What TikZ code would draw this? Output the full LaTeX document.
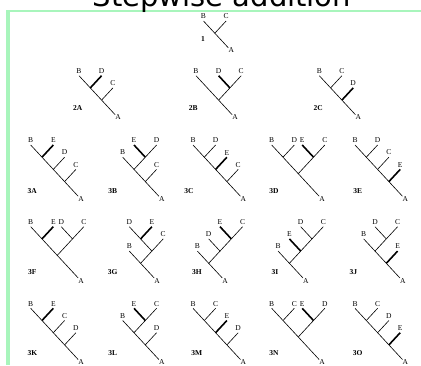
\documentclass[tikz,border=0pt]{standalone}
\usepackage{fontspec}
\setmainfont{Liberation Serif}
\newfontfamily\titlefont{DejaVu Sans}
\definecolor{framegreen}{RGB}{168,245,188}

\begin{document}
\begin{tikzpicture}[x=1pt,y=-1pt,
  br/.style={line width=0.6pt},
  newbr/.style={line width=1.6pt},
  leaf/.style={above,inner sep=2pt,font=\fontsize{7.5}{8}\selectfont},
  rootlbl/.style={below right,inner sep=0pt,font=\fontsize{7.5}{8}\selectfont},
  tname/.style={font=\fontsize{7.5}{8}\selectfont\bfseries}]

\useasboundingbox (0,0) rectangle (421,365);

% frame and title
\fill[framegreen] (6,9.5) rectangle (421,11.5);
\fill[framegreen] (6,9.5) rectangle (10,365);
\node[font=\titlefont\fontsize{29}{30}\selectfont,anchor=base] (title) at (222,6.5) {Stepwise addition};

% step 1
\begin{scope}[shift={(203.5,21)},xscale=11.3,yscale=12.2]
\draw[br] (0,0) -- (2.2,2.2);
\draw[br] (2,0) -- (1,1);
\node[leaf] (B1) at (0,0) {B};
\node[leaf] (C1) at (2,0) {C};
\node[rootlbl] (A1) at (2.2,2.2) {A};
\end{scope}
\node[tname] (t1) at (203,39) {1};

% step 2: adding D
\begin{scope}[shift={(79,75.7)},xscale=11.3,yscale=12.2]
\draw[br] (0,0) -- (3.2,3.2);
\draw[newbr] (2,0) -- (1,1);
\draw[br] (3,1) -- (2,2);
\node[leaf] (B2a) at (0,0) {B};
\node[leaf] (D2a) at (2,0) {D};
\node[leaf] (C2a) at (3,1) {C};
\node[rootlbl] (A2a) at (3.2,3.2) {A};
\end{scope}
\node[tname] (t2a) at (77.7,107.7) {2A};

\begin{scope}[shift={(196,75.7)},xscale=11.3,yscale=12.2]
\draw[br] (0,0) -- (3.2,3.2);
\draw[newbr] (2,0) -- (3,1);
\draw[br] (4,0) -- (3,1) -- (2,2);
\node[leaf] (B2b) at (0,0) {B};
\node[leaf] (D2b) at (2,0) {D};
\node[leaf] (C2b) at (4,0) {C};
\node[rootlbl] (A2b) at (3.2,3.2) {A};
\end{scope}
\node[tname] (t2b) at (193.3,107.7) {2B};

\begin{scope}[shift={(319.3,75.7)},xscale=11.3,yscale=12.2]
\draw[br] (0,0) -- (3.2,3.2);
\draw[br] (2,0) -- (1,1);
\draw[newbr] (3,1) -- (2,2);
\node[leaf] (B2c) at (0,0) {B};
\node[leaf] (C2c) at (2,0) {C};
\node[leaf] (D2c) at (3,1) {D};
\node[rootlbl] (A2c) at (3.2,3.2) {A};
\end{scope}
\node[tname] (t2c) at (318.3,107.7) {2C};

% step 3: adding E
\begin{scope}[shift={(30.7,145)},xscale=11.3,yscale=12.2]
\draw[br] (0,0) -- (4.2,4.2);
\draw[newbr] (2,0) -- (1,1);
\draw[br] (3,1) -- (2,2);
\draw[br] (4,2) -- (3,3);
\node[leaf] (B3a) at (0,0) {B};
\node[leaf] (E3a) at (2,0) {E};
\node[leaf] (D3a) at (3,1) {D};
\node[leaf] (C3a) at (4,2) {C};
\node[rootlbl] (A3a) at (4.2,4.2) {A};
\end{scope}
\node[tname] (t3a) at (32.3,190.7) {3A};

\begin{scope}[shift={(122.7,145)},xscale=11.3,yscale=12.2]
\draw[br] (0,1) -- (3.2,4.2);
\draw[newbr] (1,0) -- (2,1);
\draw[br] (3,0) -- (2,1) -- (1,2);
\draw[br] (3,2) -- (2,3);
\node[leaf] (E3b) at (1,0) {E};
\node[leaf] (D3b) at (3,0) {D};
\node[leaf] (B3b) at (0,1) {B};
\node[leaf] (C3b) at (3,2) {C};
\node[rootlbl] (A3b) at (3.2,4.2) {A};
\end{scope}
\node[tname] (t3b) at (112.7,190.7) {3B};

\begin{scope}[shift={(193,145)},xscale=11.3,yscale=12.2]
\draw[br] (0,0) -- (4.2,4.2);
\draw[br] (2,0) -- (1,1);
\draw[newbr] (3,1) -- (2,2);
\draw[br] (4,2) -- (3,3);
\node[leaf] (B3c) at (0,0) {B};
\node[leaf] (D3c) at (2,0) {D};
\node[leaf] (E3c) at (3,1) {E};
\node[leaf] (C3c) at (4,2) {C};
\node[rootlbl] (A3c) at (4.2,4.2) {A};
\end{scope}
\node[tname] (t3c) at (189,190.7) {3C};

\begin{scope}[shift={(271.7,145)},xscale=11.3,yscale=12.2]
\draw[br] (0,0) -- (4.2,4.2);
\draw[br] (2,0) -- (1,1);
\draw[newbr] (2.7,0) -- (3.7,1);
\draw[br] (4.7,0) -- (3.7,1) -- (2.35,2.35);
\node[leaf] (B3d) at (0,0) {B};
\node[leaf] (D3d) at (2,0) {D};
\node[leaf] (E3d) at (2.7,0) {E};
\node[leaf] (C3d) at (4.7,0) {C};
\node[rootlbl] (A3d) at (4.2,4.2) {A};
\end{scope}
\node[tname] (t3d) at (274,190.7) {3D};

\begin{scope}[shift={(355,145)},xscale=11.3,yscale=12.2]
\draw[br] (0,0) -- (4.2,4.2);
\draw[br] (2,0) -- (1,1);
\draw[br] (3,1) -- (2,2);
\draw[newbr] (4,2) -- (3,3);
\node[leaf] (B3e) at (0,0) {B};
\node[leaf] (D3e) at (2,0) {D};
\node[leaf] (C3e) at (3,1) {C};
\node[leaf] (E3e) at (4,2) {E};
\node[rootlbl] (A3e) at (4.2,4.2) {A};
\end{scope}
\node[tname] (t3e) at (357.7,190.7) {3E};

\begin{scope}[shift={(30.7,226.7)},xscale=11.3,yscale=12.2]
\draw[br] (0,0) -- (4.2,4.2);
\draw[newbr] (2,0) -- (1,1);
\draw[br] (2.7,0) -- (3.7,1);
\draw[br] (4.7,0) -- (3.7,1) -- (2.35,2.35);
\node[leaf] (B3f) at (0,0) {B};
\node[leaf] (E3f) at (2,0) {E};
\node[leaf] (D3f) at (2.7,0) {D};
\node[leaf] (C3f) at (4.7,0) {C};
\node[rootlbl] (A3f) at (4.2,4.2) {A};
\end{scope}
\node[tname] (t3f) at (32.3,271.7) {3F};

\begin{scope}[shift={(129.3,226.7)},xscale=11.3,yscale=12.2]
\draw[br] (0,0) -- (2,2) -- (1,3);
\draw[newbr] (2,0) -- (1,1);
\draw[br] (3,1) -- (2,2);
\draw[br] (0,2) -- (2.2,4.2);
\node[leaf] (D3g) at (0,0) {D};
\node[leaf] (E3g) at (2,0) {E};
\node[leaf] (C3g) at (3,1) {C};
\node[leaf] (B3g) at (0,2) {B};
\node[rootlbl] (A3g) at (2.2,4.2) {A};
\end{scope}
\node[tname] (t3g) at (112.7,271.7) {3G};

\begin{scope}[shift={(197.4,226.7)},xscale=11.3,yscale=12.2]
\draw[newbr] (2,0) -- (3,1);
\draw[br] (4,0) -- (3,1) -- (2,2);
\draw[br] (1,1) -- (2,2) -- (1,3);
\draw[br] (0,2) -- (2.2,4.2);
\node[leaf] (E3h) at (2,0) {E};
\node[leaf] (C3h) at (4,0) {C};
\node[leaf] (D3h) at (1,1) {D};
\node[leaf] (B3h) at (0,2) {B};
\node[rootlbl] (A3h) at (2.2,4.2) {A};
\end{scope}
\node[tname] (t3h) at (197,271.7) {3H};

\begin{scope}[shift={(278.1,226.7)},xscale=11.3,yscale=12.2]
\draw[br] (2,0) -- (3,1);
\draw[br] (4,0) -- (3,1) -- (2,2) -- (1,3);
\draw[newbr] (1,1) -- (2,2);
\draw[br] (0,2) -- (2.2,4.2);
\node[leaf] (D3i) at (2,0) {D};
\node[leaf] (C3i) at (4,0) {C};
\node[leaf] (E3i) at (1,1) {E};
\node[leaf] (B3i) at (0,2) {B};
\node[rootlbl] (A3i) at (2.2,4.2) {A};
\end{scope}
\node[tname] (t3i) at (275,271.7) {3I};

\begin{scope}[shift={(352.4,226.7)},xscale=11.3,yscale=12.2]
\draw[br] (2,0) -- (3,1);
\draw[br] (4,0) -- (3,1) -- (2,2);
\draw[br] (1,1) -- (4.2,4.2);
\draw[newbr] (4,2) -- (3,3);
\node[leaf] (D3j) at (2,0) {D};
\node[leaf] (C3j) at (4,0) {C};
\node[leaf] (B3j) at (1,1) {B};
\node[leaf] (E3j) at (4,2) {E};
\node[rootlbl] (A3j) at (4.2,4.2) {A};
\end{scope}
\node[tname] (t3j) at (353.3,271.7) {3J};

\begin{scope}[shift={(30.7,308.3)},xscale=11.3,yscale=12.2]
\draw[br] (0,0) -- (4.2,4.2);
\draw[newbr] (2,0) -- (1,1);
\draw[br] (3,1) -- (2,2);
\draw[br] (4,2) -- (3,3);
\node[leaf] (B3k) at (0,0) {B};
\node[leaf] (E3k) at (2,0) {E};
\node[leaf] (C3k) at (3,1) {C};
\node[leaf] (D3k) at (4,2) {D};
\node[rootlbl] (A3k) at (4.2,4.2) {A};
\end{scope}
\node[tname] (t3k) at (32.3,353.3) {3K};

\begin{scope}[shift={(122.7,308.3)},xscale=11.3,yscale=12.2]
\draw[br] (0,1) -- (3.2,4.2);
\draw[newbr] (1,0) -- (2,1);
\draw[br] (3,0) -- (2,1) -- (1,2);
\draw[br] (3,2) -- (2,3);
\node[leaf] (E3l) at (1,0) {E};
\node[leaf] (C3l) at (3,0) {C};
\node[leaf] (B3l) at (0,1) {B};
\node[leaf] (D3l) at (3,2) {D};
\node[rootlbl] (A3l) at (3.2,4.2) {A};
\end{scope}
\node[tname] (t3l) at (112.7,353.3) {3L};

\begin{scope}[shift={(193,308.3)},xscale=11.3,yscale=12.2]
\draw[br] (0,0) -- (4.2,4.2);
\draw[br] (2,0) -- (1,1);
\draw[newbr] (3,1) -- (2,2);
\draw[br] (4,2) -- (3,3);
\node[leaf] (B3m) at (0,0) {B};
\node[leaf] (C3m) at (2,0) {C};
\node[leaf] (E3m) at (3,1) {E};
\node[leaf] (D3m) at (4,2) {D};
\node[rootlbl] (A3m) at (4.2,4.2) {A};
\end{scope}
\node[tname] (t3m) at (196.7,353.3) {3M};

\begin{scope}[shift={(271.7,308.3)},xscale=11.3,yscale=12.2]
\draw[br] (0,0) -- (4.2,4.2);
\draw[br] (2,0) -- (1,1);
\draw[newbr] (2.7,0) -- (3.7,1);
\draw[br] (4.7,0) -- (3.7,1) -- (2.35,2.35);
\node[leaf] (B3n) at (0,0) {B};
\node[leaf] (C3n) at (2,0) {C};
\node[leaf] (E3n) at (2.7,0) {E};
\node[leaf] (D3n) at (4.7,0) {D};
\node[rootlbl] (A3n) at (4.2,4.2) {A};
\end{scope}
\node[tname] (t3n) at (274,353.3) {3N};

\begin{scope}[shift={(355,308.3)},xscale=11.3,yscale=12.2]
\draw[br] (0,0) -- (4.2,4.2);
\draw[br] (2,0) -- (1,1);
\draw[br] (3,1) -- (2,2);
\draw[newbr] (4,2) -- (3,3);
\node[leaf] (B3o) at (0,0) {B};
\node[leaf] (C3o) at (2,0) {C};
\node[leaf] (D3o) at (3,1) {D};
\node[leaf] (E3o) at (4,2) {E};
\node[rootlbl] (A3o) at (4.2,4.2) {A};
\end{scope}
\node[tname] (t3o) at (357.7,353.3) {3O};

\end{tikzpicture}
\end{document}
